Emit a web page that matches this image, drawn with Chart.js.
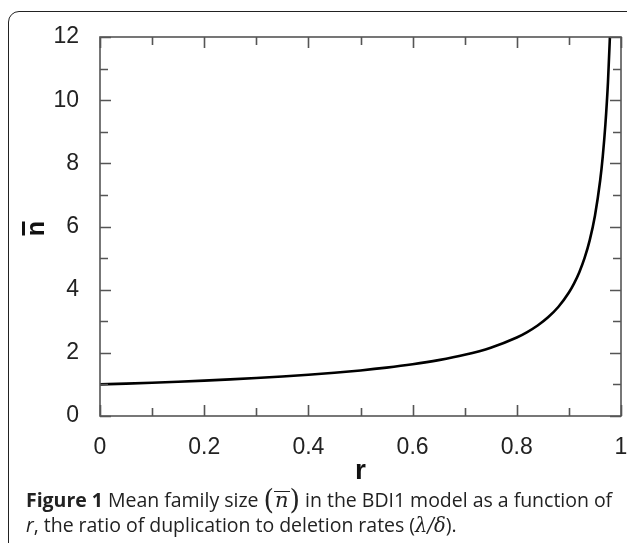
<!DOCTYPE html>
<html>
<head>
<meta charset="utf-8">
<script src="https://cdn.jsdelivr.net/npm/chart.js@4.4.0/dist/chart.umd.min.js"></script>
<style>
  html, body { margin: 0; padding: 0; background: #fff; }
  body { width: 627px; height: 543px; overflow: hidden; position: relative; }
  #frame {
    position: absolute; left: 8px; top: 11px; width: 700px; height: 600px;
    border: 1.6px solid #222; border-radius: 11px; box-sizing: border-box;
  }
  #wrap { position: absolute; left: 0; top: 0; width: 640px; height: 500px; }
  #caption {
    position: absolute; left: 26px; top: 487px;
    font-family: "Open Sans", sans-serif; font-size: 19.5px; line-height: 25px; color: #222;
    white-space: nowrap;
  }
  #caption b { font-weight: 700; }
  .par { font-family: "DejaVu Serif", serif; font-size: 27px; vertical-align: -2px; }
  .nbar { font-family: "DejaVu Serif", serif; font-style: italic; font-size: 21px;
          display: inline-block; border-top: 1.5px solid #222; line-height: 17px; padding: 0 1px; }
  .gk { font-family: "DejaVu Serif", serif; font-style: italic; }
</style>
</head>
<body>
<div id="frame"></div>
<div id="wrap"><canvas id="chart" width="640" height="500"></canvas></div>
<div id="caption">
  <div id="cap1"><b>Figure 1</b> Mean family size <span class="par">(</span><span class="nbar">n</span><span class="par">)</span> in the BDI1 model as a function of</div>
  <div id="cap2"><i>r</i>, the ratio of duplication to deletion rates (<span class="gk">λ/δ</span>).</div>
</div>
<script>
// ratio of duplication to deletion rates
const rValues = [0, 0.05, 0.1, 0.15, 0.2, 0.25, 0.3, 0.35, 0.4, 0.45, 0.5, 0.55, 0.6, 0.65,
  0.7, 0.75, 0.8, 0.82, 0.84, 0.86, 0.88, 0.9, 0.91, 0.92, 0.93, 0.94, 0.95, 0.96,
  0.965, 0.97, 0.975, 0.98];
// mean family size
const meanSize = [1, 1.026, 1.055, 1.086, 1.120, 1.159, 1.202, 1.250, 1.305, 1.369, 1.443,
  1.531, 1.637, 1.769, 1.938, 2.164, 2.485, 2.657, 2.865, 3.124, 3.459, 3.909, 4.199,
  4.553, 4.996, 5.569, 6.342, 7.456, 8.224, 9.221, 10.572, 12.525];

const xTicks = [0, 0.1, 0.2, 0.3, 0.4, 0.5, 0.6, 0.7, 0.8, 0.9, 1];
const yTicks = [0, 1, 2, 3, 4, 5, 6, 7, 8, 9, 10, 11, 12];

const points = rValues.map((r, i) => ({ x: r, y: meanSize[i] }));

const tickFont = { family: '"Liberation Sans", Arial, sans-serif', size: 23 };

// fit the caption's first line between the frame edges
(function fitCaption() {
  const line = document.getElementById('cap1');
  const target = 586;
  const w = line.getBoundingClientRect().width;
  const chars = line.textContent.replace(/\s+/g, ' ').trim().length;
  const ls = (target - w) / chars;
  document.getElementById('caption').style.letterSpacing = ls.toFixed(2) + 'px';
})();

// inward ticks on all four sides plus the box
const framePlugin = {
  id: 'frame',
  afterDraw(chart) {
    const { ctx, chartArea: a, scales: { x, y } } = chart;
    ctx.save();
    ctx.strokeStyle = '#555';
    ctx.lineWidth = 1.6;
    ctx.strokeRect(a.left, a.top, a.right - a.left, a.bottom - a.top);
    ctx.beginPath();
    xTicks.forEach((v, i) => {
      const px = Math.round(x.getPixelForValue(v)) + 0.5;
      const len = i % 2 === 0 ? 11 : 8;
      ctx.moveTo(px, a.bottom); ctx.lineTo(px, a.bottom - len);
      ctx.moveTo(px, a.top); ctx.lineTo(px, a.top + len);
    });
    yTicks.forEach((v, i) => {
      const py = Math.round(y.getPixelForValue(v)) + 0.5;
      const len = i % 2 === 0 ? 11 : 8;
      ctx.moveTo(a.left, py); ctx.lineTo(a.left + len, py);
      ctx.moveTo(a.right, py); ctx.lineTo(a.right - len, py);
    });
    ctx.stroke();

    // y axis label: n with a bar, rotated
    const cy = y.getPixelForValue(6);
    ctx.translate(34, cy + 2);
    ctx.rotate(-Math.PI / 2);
    ctx.fillStyle = '#111';
    ctx.font = 'bold 25px "Liberation Sans", Arial, sans-serif';
    ctx.textAlign = 'center';
    ctx.textBaseline = 'middle';
    ctx.fillText('n', 0, 3);
    ctx.fillRect(-7, -12, 14, 3);
    ctx.restore();
  }
};

new Chart(document.getElementById('chart'), {
  type: 'line',
  data: {
    datasets: [{
      data: points,
      borderColor: '#000',
      borderWidth: 2.6,
      pointRadius: 0,
      cubicInterpolationMode: 'monotone',
      fill: false
    }]
  },
  options: {
    responsive: false,
    animation: false,
    layout: { padding: { left: 20, top: 37, right: 19, bottom: 0 } },
    plugins: { legend: { display: false }, tooltip: { enabled: false } },
    scales: {
      x: {
        type: 'linear', min: 0, max: 1,
        grid: { display: false },
        border: { display: false },
        ticks: {
          stepSize: 0.2, color: '#222', font: tickFont, padding: 10, maxRotation: 0,
          callback: v => String(+v.toFixed(1))
        },
        title: {
          display: true, text: 'r', color: '#111',
          font: { family: '"Liberation Sans", Arial, sans-serif', size: 28, weight: 'bold' },
          padding: { top: 4, bottom: 12 }
        },
        afterFit(scale) { scale.height = 84; }
      },
      y: {
        type: 'linear', min: 0, max: 12,
        grid: { display: false },
        border: { display: false },
        ticks: { stepSize: 2, color: '#222', font: tickFont, padding: 13 },
        afterFit(scale) { scale.width = 80; }
      }
    }
  },
  plugins: [framePlugin]
});
</script>
</body>
</html>
